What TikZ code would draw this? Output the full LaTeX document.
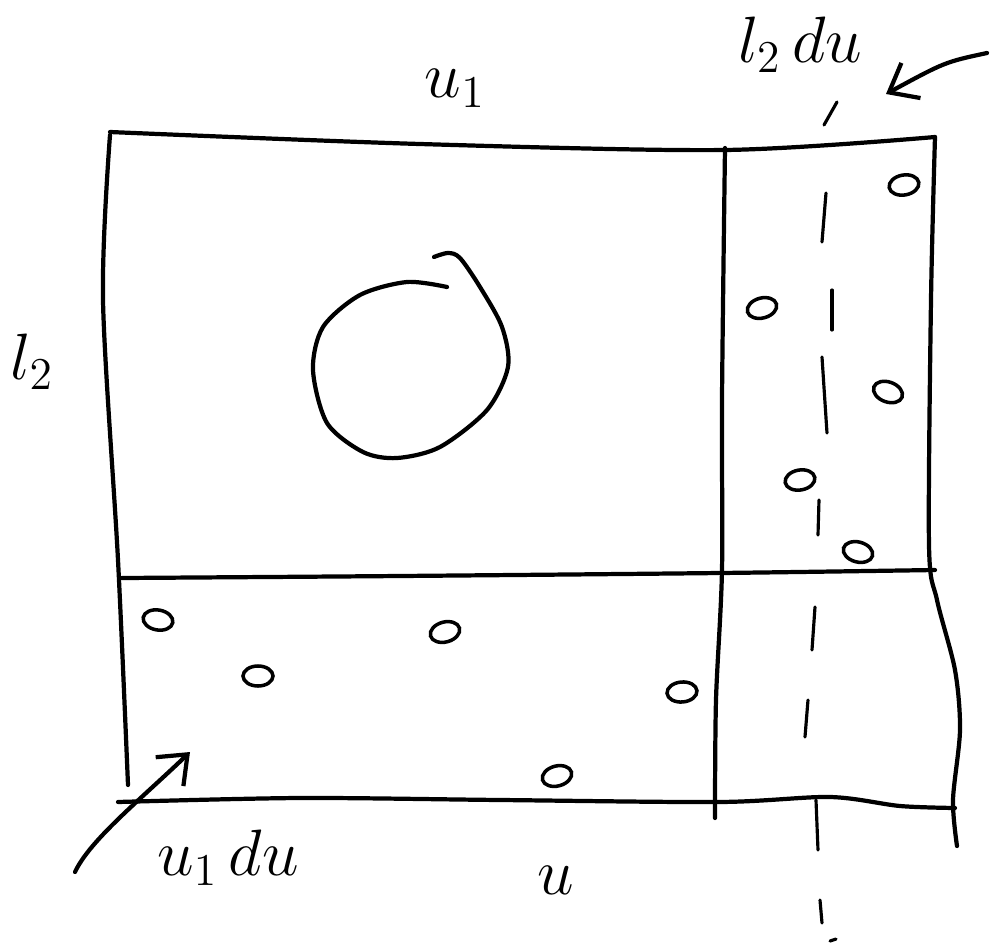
\documentclass[tikz,border=0pt]{standalone}
\usepackage{tikz}
\usepackage{xcolor}
\usetikzlibrary{calc,arrows.meta}
\definecolor{penInk}{RGB}{0,0,0}

\begin{document}
\begin{tikzpicture}[x=0.02cm,y=-0.02cm,
  pen/.style={draw=penInk,line width=2.4pt,line cap=round,line join=round},
  dashpen/.style={draw=penInk,line width=1.8pt,line cap=round},
  dot/.style={draw=penInk,line width=2pt},
  lbl/.style={inner sep=0pt,text=penInk,font=\huge,scale=1.8}]
\useasboundingbox (0,0) rectangle (992,947);

% outer frame and the two cuts
\draw[pen] plot[smooth] coordinates {(110,132) (420,144) (725,150) (935,137)};
\draw[pen] plot[smooth] coordinates {(110,135) (103,300) (118,560) (128,785)};
\draw[pen] plot[smooth] coordinates {(122,578) (400,576) (720,573) (935,570)};
\draw[pen] plot[smooth] coordinates {(118,802) (300,798) (500,800) (720,802) (830,797) (900,806) (955,808)};
\draw[pen] plot[smooth] coordinates {(725,148) (722,400) (722,570) (716,700) (715,818)};
\draw[pen] plot[smooth] coordinates {(935,137) (931,300) (929,545) (937,600) (955,670) (960,730) (953,800) (957,846)};

% dashed line
\foreach \xa/\ya/\xb/\yb in {837/102/824/125, 826/193/822/242, 832/290/832/330,
    822/357/827/433, 819/500/818/535, 815/607/812/650, 808/700/805/737,
    816/800/818/850, 820/900/822/923, 830/941/836/939}
  \draw[dashpen] (\xa,\ya) -- (\xb,\yb);

% big circle
\draw[pen] plot[smooth] coordinates {(447,287) (407,282) (360,295) (323,327) (313,370)
  (327,423) (363,452) (397,458) (440,447) (487,410) (508,367) (502,327) (480,287)
  (460,258) (448,253) (434,257)};

% small circles
\foreach \cx/\cy/\rot in {904/185/10, 762/308/15, 888/392/-20, 800/480/10, 858/552/-15,
    158/620/-10, 445/632/15, 258/676/0, 682/692/5, 557/776/15}
  \draw[dot,rotate around={\rot:(\cx,\cy)}] (\cx,\cy) ellipse (15 and 10);

% labels
\node[lbl] (topU) at (455,88) {$u_1$};
\node[lbl] (leftL) at (32,362) {$l_2$};
\node[lbl] (rightStrip) at (800,45) {$l_2\,du$};
\node[lbl] (bottomStrip) at (228,858) {$u_1\,du$};
\node[lbl] (bottomU) at (556,880) {$u$};

% pointers
\coordinate (rTail) at (987,53);
\coordinate (rTip) at (886,94);
\coordinate (lTail) at (75,872);
\coordinate (lTip) at (190,752);
\draw[pen,-{Straight Barb[length=5mm,width=8mm]}] (rTail) .. controls (945,62) .. (rTip);
\draw[pen,-{Straight Barb[length=5mm,width=8mm]}] (lTail) .. controls (90,840) and (140,800) .. (lTip);
\end{tikzpicture}
\end{document}
